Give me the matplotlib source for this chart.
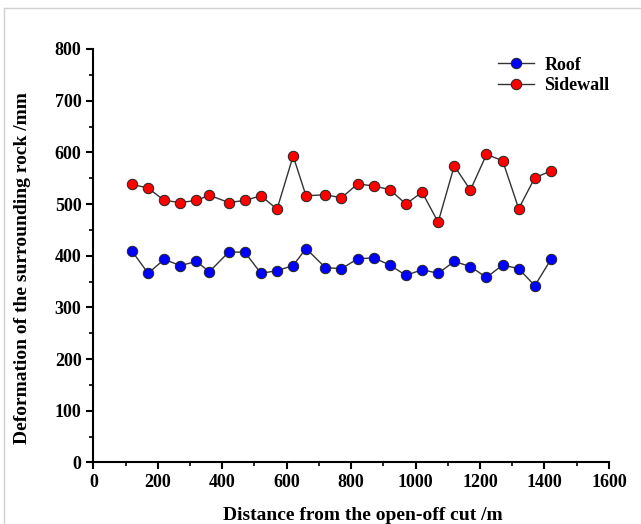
import matplotlib.pyplot as plt
from matplotlib.lines import Line2D
from matplotlib.ticker import MultipleLocator

plt.rcParams['font.family'] = ['Liberation Serif', 'DejaVu Serif']
plt.rcParams['font.weight'] = 'bold'

# distance from the open-off cut (m)
distance = [120, 170, 220, 270, 320, 360, 420, 470, 520, 570, 620, 660, 720, 770,
            820, 870, 920, 970, 1020, 1070, 1120, 1170, 1220, 1270, 1320, 1370, 1420]
roof = [409, 366, 393, 381, 389, 369, 407, 407, 366, 371, 381, 414, 377, 375,
        394, 396, 382, 362, 373, 366, 389, 379, 358, 382, 375, 342, 393]
sidewall = [538, 531, 507, 503, 507, 517, 503, 507, 516, 490, 593, 516, 518, 512,
            539, 535, 528, 500, 523, 465, 574, 527, 596, 584, 491, 551, 564]

fig = plt.figure(figsize=(6.41, 5.24), dpi=100)
ax = fig.add_axes([0.1456, 0.1174, 0.8044, 0.7891])

ax.plot(distance, roof, color='#333333', lw=1, marker='o', ms=7.5,
        mfc='#0000ff', mec='#222222', mew=0.7, label='Roof')
ax.plot(distance, sidewall, color='#333333', lw=1, marker='o', ms=7.5,
        mfc='#ff0000', mec='#222222', mew=0.7, label='Sidewall')

ax.set_xlim(0, 1600)
ax.set_ylim(0, 800)
ax.xaxis.set_major_locator(MultipleLocator(200))
ax.xaxis.set_minor_locator(MultipleLocator(100))
ax.yaxis.set_major_locator(MultipleLocator(100))
ax.yaxis.set_minor_locator(MultipleLocator(50))

for s in ['top', 'right']:
    ax.spines[s].set_visible(False)
for s in ['left', 'bottom']:
    ax.spines[s].set_linewidth(1.5)
ax.tick_params(which='major', direction='out', length=5, width=1.5, labelsize=13, pad=3.5)
ax.tick_params(which='minor', direction='out', length=3, width=1.2)

ax.set_xlabel('Distance from the open-off cut /m', fontsize=14, fontweight='bold')
ax.set_ylabel('Deformation of the surrounding rock /mm', fontsize=14, fontweight='bold')
ax.xaxis.set_label_coords(0.523, -0.107)
ax.yaxis.set_label_coords(-0.121, 0.47)

ax.legend(loc='upper left', bbox_to_anchor=(0.752, 0.923), bbox_transform=fig.transFigure,
          frameon=False, fontsize=13, handlelength=2.0, handletextpad=0.55, labelspacing=0.2)

# light grey frame from the source page
fig.add_artist(Line2D([4 / 641, 1], [1 - 8 / 524, 1 - 8 / 524], color='#d0d0d0', lw=1))
fig.add_artist(Line2D([4 / 641, 4 / 641], [0, 1 - 8 / 524], color='#d0d0d0', lw=1))

fig.savefig('out.png', dpi=100)
